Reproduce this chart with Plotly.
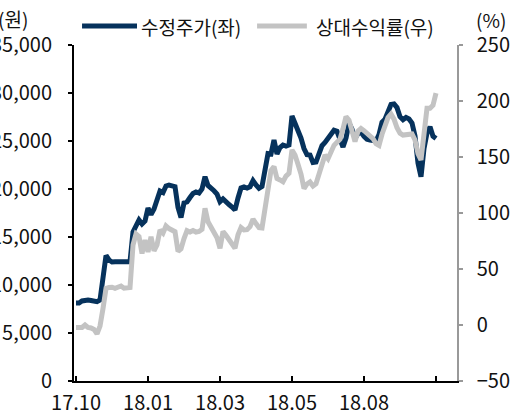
import plotly.graph_objects as go

# ---- data ----
x_labels = ["17.10", "18.01", "18.03", "18.05", "18.08", ""]

price = [8125, 8125, 8333, 8438, 8438, 8385, 8260, 8260, 8438, 11042,
         13073, 12604, 12396, 12430, 12430, 12430, 12430, 12430, 12430, 15521,
         16073, 16771, 16354, 16667, 18021, 17344, 17917, 18854, 19792, 19635,
         20313, 20417, 20385, 20240, 18073, 17031, 18542, 18646, 19115, 19531,
         19688, 19583, 20000, 21281, 20365, 20135, 19823, 19479, 18677, 18958,
         18583, 18385, 18125, 17813, 19063, 20104, 20208, 20104, 20240, 20875,
         20417, 20073, 20260, 21979, 23698, 23646, 25104, 23646, 24323, 24583,
         24479, 24583, 27600, 26844, 26115, 25313, 24219, 23573, 23542, 22760,
         22813, 23615, 24510, 24844, 25313, 25594, 26115, 26010, 25208, 24375,
         25313, 26875, 26219, 25281, 25760, 25938, 25490, 25188, 25104, 25031,
         25000, 25677, 26948, 27271, 28021, 28802, 28854, 28479, 27531, 27219,
         27458, 27292, 26875, 25521, 22708, 21281, 24219, 25833, 26490, 25500,
         25260]

rel_return = [-2.2, -2.7, -2.2, 0.0, -2.2, -2.7, -4.0, -8.0, -0.9, 14.7,
              32.6, 33.5, 33.7, 32.7, 33.3, 34.8, 32.8, 32.8, 33.5, 71.4,
              81.3, 79.0, 63.8, 75.9, 65.2, 78.8, 66.3, 71.4, 84.8, 82.1,
              88.4, 86.1, 84.6, 83.3, 65.7, 68.0, 77.2, 84.2, 83.0, 84.4,
              83.0, 83.5, 85.4, 104.2, 92.1, 87.9, 83.6, 77.9, 68.5, 83.5,
              80.1, 75.7, 71.7, 68.5, 80.6, 87.0, 84.8, 85.1, 87.8, 94.6,
              90.5, 87.0, 86.7, 105.6, 123.2, 138.0, 141.5, 130.8, 129.5, 127.9,
              132.9, 135.4, 156.3, 151.8, 143.5, 134.8, 121.8, 125.9, 127.7, 124.1,
              126.1, 134.8, 145.5, 151.8, 148.4, 154.4, 160.4, 163.1, 165.9, 175.2,
              186.0, 182.9, 174.1, 163.7, 173.0, 175.4, 173.5, 170.8, 168.9, 166.5,
              161.9, 160.3, 170.3, 177.1, 185.2, 188.4, 183.8, 176.1, 171.2, 169.6,
              169.6, 170.0, 170.6, 165.2, 153.0, 147.3, 171.4, 193.5, 193.5, 196.2,
              207.1]

series_names = ["수정주가(좌)", "상대수익률(우)"]

idx = list(range(len(price)))
tick_step = 24
tick_vals = [i * tick_step for i in range(len(x_labels))]

NAVY = "#06325c"
GRAY = "#c3c3c3"
FONT = "Noto Sans CJK KR"
TICK_SIZE = 20
LEG_SIZE = 19

fig = go.Figure()
fig.add_trace(go.Scatter(x=idx, y=rel_return, name=series_names[1], mode="lines",
                         line=dict(color=GRAY, width=5), yaxis="y2", showlegend=False))
fig.add_trace(go.Scatter(x=idx, y=price, name=series_names[0], mode="lines",
                         line=dict(color=NAVY, width=5), yaxis="y", showlegend=False))

# legend drawn manually (wide line samples like the reference)
leg_y = 1.0565
shapes = [
    dict(type="line", xref="paper", yref="paper", x0=0.021, x1=0.1645, y0=leg_y, y1=leg_y,
         line=dict(color=NAVY, width=5)),
    dict(type="line", xref="paper", yref="paper", x0=0.478, x1=0.608, y0=leg_y, y1=leg_y,
         line=dict(color=GRAY, width=5)),
]
annotations = [
    dict(text=series_names[0], xref="paper", yref="paper", x=0.170, y=leg_y,
         xanchor="left", yanchor="middle", showarrow=False, font=dict(size=LEG_SIZE)),
    dict(text=series_names[1], xref="paper", yref="paper", x=0.627, y=leg_y,
         xanchor="left", yanchor="middle", showarrow=False, font=dict(size=LEG_SIZE)),
    dict(text="(원)", xref="paper", yref="paper", x=-0.159, y=1.078,
         xanchor="center", yanchor="middle", showarrow=False, font=dict(size=LEG_SIZE)),
    dict(text="(%)", xref="paper", yref="paper", x=1.089, y=1.076,
         xanchor="center", yanchor="middle", showarrow=False, font=dict(size=LEG_SIZE)),
]

fig.update_layout(
    width=511, height=415,
    margin=dict(l=74, r=54, t=45, b=34, autoexpand=False),
    plot_bgcolor="white", paper_bgcolor="white",
    font=dict(family=FONT, size=TICK_SIZE, color="#111"),
    showlegend=False,
    shapes=shapes,
    annotations=annotations,
    xaxis=dict(range=[-0.67, 127], tickmode="array", tickvals=tick_vals,
               ticktext=x_labels, showgrid=False, zeroline=False, automargin=False,
               showline=True, linecolor="black", linewidth=2,
               ticks="inside", ticklen=5, tickwidth=2, tickcolor="black",
               tickfont=dict(size=TICK_SIZE), ticklabelstandoff=3),
    yaxis=dict(range=[0, 35000], dtick=5000, tickformat=",", showgrid=False,
               zeroline=False, showline=True, linecolor="black", linewidth=2,
               automargin=False,
               ticks="outside", ticklen=4, tickwidth=2, tickcolor="black",
               tickfont=dict(size=TICK_SIZE), ticklabelstandoff=12),
    yaxis2=dict(range=[-50, 250], dtick=50, overlaying="y", side="right",
                showgrid=False, zeroline=False, showline=True, linecolor="#999",
                automargin=False,
                linewidth=1.5, ticks="outside", ticklen=4, tickwidth=1.5,
                tickcolor="#999", tickfont=dict(size=TICK_SIZE), ticklabelstandoff=10),
)

fig.write_html("out.html", config={"displayModeBar": False},
               post_script="document.body.style.margin='0px';document.body.style.overflow='hidden';")
